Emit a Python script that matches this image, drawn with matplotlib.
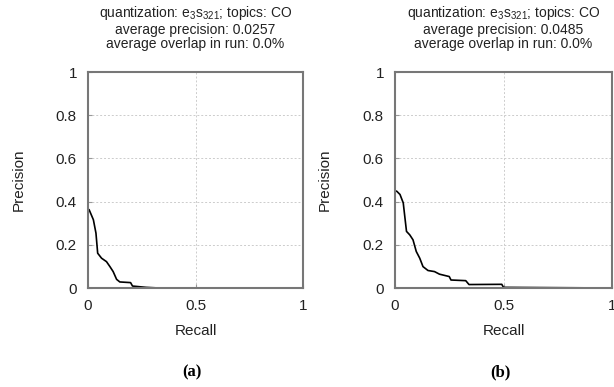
import matplotlib
matplotlib.use("Agg")
import matplotlib.pyplot as plt

plt.rcParams['font.family'] = ['Liberation Sans', 'DejaVu Sans']
plt.rcParams['mathtext.fontset'] = 'custom'
plt.rcParams['mathtext.rm'] = 'Liberation Sans'

# precision/recall curves
recall_a = [0.0, 0.005, 0.025, 0.037, 0.045, 0.063, 0.086, 0.102, 0.117, 0.133,
            0.148, 0.198, 0.207, 0.27, 0.33, 1.0]
precision_a = [0.36, 0.363, 0.316, 0.254, 0.161, 0.138, 0.122, 0.099, 0.076, 0.04,
               0.028, 0.025, 0.009, 0.003, 0.0, 0.0]

recall_b = [0.0, 0.008, 0.023, 0.038, 0.045, 0.053, 0.068, 0.083, 0.098, 0.114,
            0.129, 0.152, 0.182, 0.205, 0.25, 0.258, 0.326, 0.341, 0.492, 0.5, 1.0]
precision_b = [0.45, 0.448, 0.433, 0.394, 0.332, 0.262, 0.246, 0.223, 0.169, 0.138,
               0.099, 0.081, 0.076, 0.064, 0.053, 0.037, 0.034, 0.016, 0.017, 0.003, 0.0]

avg_prec = ['0.0257', '0.0485']
captions = ['(a)', '(b)']
x_ticks = [0, 0.5, 1]
y_ticks = [0, 0.2, 0.4, 0.6, 0.8, 1]
y_tick_labels = ['0', '0.2', '0.4', '0.6', '0.8', '1']

fig = plt.figure(figsize=(6.14, 3.87), dpi=100)
W, H = 614, 387

panels = [(88, 303, recall_a, precision_a), (395, 612, recall_b, precision_b)]

for i, (x0, x1, rec, prec) in enumerate(panels):
    ax = fig.add_axes([x0 / W, 1 - 288 / H, (x1 - x0) / W, (288 - 72) / H])
    ax.plot(rec, prec, color='black', lw=1.2)
    ax.set_xlim(0, 1)
    ax.set_ylim(0, 1)
    ax.set_xticks(x_ticks)
    ax.set_xticklabels(['0', '0.5', '1'])
    ax.set_yticks(y_ticks)
    ax.set_yticklabels(y_tick_labels)
    ax.grid(True, linestyle=(0, (2, 2)), color='#cccccc', lw=0.7)
    for s in ax.spines.values():
        s.set_color('#777777')
        s.set_linewidth(1.5)
    ax.tick_params(direction='in', length=3, color='#999999', labelsize=11,
                   pad=8, labelcolor='#222222')
    ax.set_xlabel('Recall', fontsize=11, labelpad=8, color='#222222')
    ax.set_ylabel('Precision', fontsize=11, color='#222222')
    ax.yaxis.set_label_coords(-0.29, 0.5)
    title = ('quantization: $\\mathregular{e_3s_{321}}$; topics: CO\n'
             'average precision: ' + avg_prec[i] + '\n'
             'average overlap in run: 0.0%')
    ax.set_title(title, fontsize=10, linespacing=1.08, pad=17, color='#222222')
    fig.text((x0 + x1) / 2 / W - 0.005, 1 - 372 / H, captions[i],
             fontsize=12, fontweight='bold', family='Liberation Serif',
             ha='center', va='center')

fig.savefig('out.png', dpi=100)
